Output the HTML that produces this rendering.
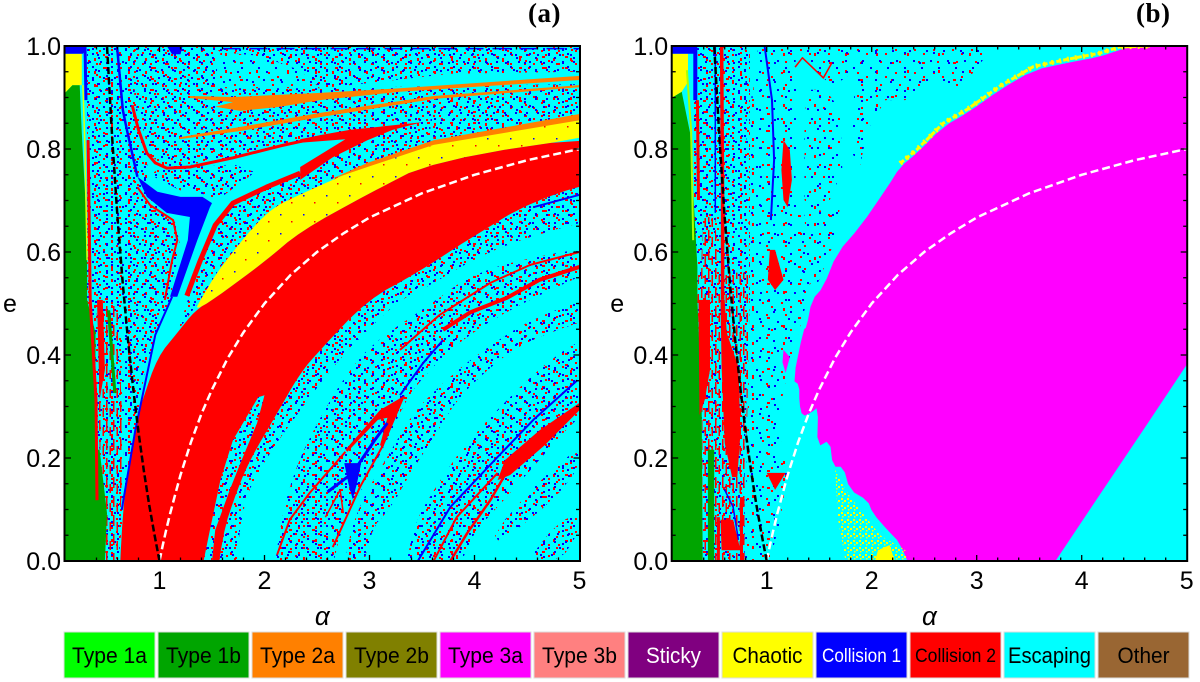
<!DOCTYPE html>
<html lang="en">
<head>
<meta charset="utf-8">
<title>Orbit classification maps</title>
<style>
html,body{margin:0;padding:0;background:#fff;width:1200px;height:682px;overflow:hidden}
svg{display:block}
text{font-family:"Liberation Sans",sans-serif;fill:#000}
.lg{font-size:22px;text-anchor:middle}
.pl{font-family:"Liberation Serif",serif;font-weight:bold;font-size:27px;letter-spacing:.5px}
</style>
</head>
<body>
<svg id="fig" xmlns="http://www.w3.org/2000/svg" width="1200" height="682" viewBox="0 0 1200 682">
<defs>
<pattern id="dense-red" patternUnits="userSpaceOnUse" width="17" height="13"><g fill="#f00"><rect x="1" y="2" width="2" height="2"/><rect x="9" y="6" width="2" height="3"/><rect x="14" y="11" width="2" height="2"/></g></pattern>
<pattern id="dense-red2" patternUnits="userSpaceOnUse" width="23" height="11"><g fill="#f00"><rect x="4" y="8" width="2" height="2"/><rect x="13" y="1" width="3" height="2"/><rect x="19" y="5" width="2" height="2"/></g></pattern>
<pattern id="dense-blue" patternUnits="userSpaceOnUse" width="19" height="13"><g fill="#00f"><rect x="3" y="5" width="2" height="2"/><rect x="11" y="10" width="2" height="2"/><rect x="16" y="1" width="2" height="2"/></g></pattern>
<pattern id="dense-blue2" patternUnits="userSpaceOnUse" width="11" height="29"><g fill="#00f"><rect x="1" y="3" width="2" height="2"/><rect x="7" y="11" width="2" height="2"/><rect x="4" y="19" width="2" height="2"/><rect x="9" y="25" width="2" height="2"/></g></pattern>
<pattern id="sparse-red" patternUnits="userSpaceOnUse" width="19" height="23"><g fill="#f00"><rect x="2" y="3" width="2" height="2"/><rect x="11" y="7" width="2" height="2"/><rect x="6" y="15" width="2" height="2"/></g></pattern>
<pattern id="sparse-red2" patternUnits="userSpaceOnUse" width="31" height="17"><g fill="#f00"><rect x="8" y="2" width="2" height="3"/><rect x="23" y="11" width="3" height="2"/></g></pattern>
<pattern id="sparse-blue" patternUnits="userSpaceOnUse" width="17" height="29"><g fill="#00f"><rect x="3" y="9" width="2" height="2"/><rect x="12" y="2" width="2" height="2"/><rect x="8" y="21" width="2" height="2"/></g></pattern>
<pattern id="sparse-blue2" patternUnits="userSpaceOnUse" width="29" height="19"><g fill="#00f"><rect x="5" y="14" width="2" height="2"/><rect x="20" y="5" width="2" height="2"/></g></pattern>
<pattern id="red-vertical" patternUnits="userSpaceOnUse" width="7" height="19"><g fill="#f00"><rect x="1" y="2" width="1.5" height="11"/><rect x="4.5" y="9" width="1.5" height="9"/></g></pattern>
<pattern id="yellow-noise" patternUnits="userSpaceOnUse" width="23" height="19"><rect x="4" y="5" width="1.5" height="1.5" fill="#00f"/><rect x="15" y="12" width="1.5" height="1.5" fill="#f00"/></pattern>
<pattern id="yellow-dots" patternUnits="userSpaceOnUse" width="6" height="7"><g fill="#ff0"><rect x="1" y="1" width="2" height="2"/><rect x="4" y="3" width="2" height="2"/><rect x="2" y="5" width="1.5" height="1.5"/></g></pattern>
<clipPath id="clip-a"><rect x="65" y="46" width="515" height="515"/></clipPath>
<clipPath id="clip-b"><rect x="672" y="46" width="515" height="515"/></clipPath>
</defs>

<text class="pl" x="528" y="22">(a)</text>
<text class="pl" x="1136" y="22">(b)</text>

<g stroke="#ddd" stroke-width="1">
<g><rect x="64" y="632" width="91" height="46" fill="#00ff00"/><text class="lg" x="109.5" y="663" stroke="none" textLength="75" lengthAdjust="spacingAndGlyphs">Type 1a</text></g>
<g><rect x="158" y="632" width="91" height="46" fill="#00a500"/><text class="lg" x="203.5" y="663" stroke="none" textLength="75" lengthAdjust="spacingAndGlyphs">Type 1b</text></g>
<g><rect x="252" y="632" width="91" height="46" fill="#ff8000"/><text class="lg" x="297.5" y="663" stroke="none" textLength="75" lengthAdjust="spacingAndGlyphs">Type 2a</text></g>
<g><rect x="346" y="632" width="91" height="46" fill="#808000"/><text class="lg" x="391.5" y="663" stroke="none" textLength="75" lengthAdjust="spacingAndGlyphs">Type 2b</text></g>
<g><rect x="440" y="632" width="91" height="46" fill="#ff00ff"/><text class="lg" x="485.5" y="663" stroke="none" textLength="75" lengthAdjust="spacingAndGlyphs">Type 3a</text></g>
<g><rect x="534" y="632" width="91" height="46" fill="#ff8080"/><text class="lg" x="579.5" y="663" stroke="none" textLength="75" lengthAdjust="spacingAndGlyphs">Type 3b</text></g>
<g><rect x="628" y="632" width="91" height="46" fill="#800080"/><text class="lg" x="673.5" y="663" stroke="none" style="fill:#fff" textLength="55" lengthAdjust="spacingAndGlyphs">Sticky</text></g>
<g><rect x="722" y="632" width="91" height="46" fill="#ffff00"/><text class="lg" x="767.5" y="663" stroke="none" textLength="70" lengthAdjust="spacingAndGlyphs">Chaotic</text></g>
<g><rect x="816" y="632" width="91" height="46" fill="#0000ff"/><text class="lg" x="861.5" y="662" stroke="none" style="fill:#fff;font-size:19px" textLength="79" lengthAdjust="spacingAndGlyphs">Collision 1</text></g>
<g><rect x="910" y="632" width="91" height="46" fill="#ff0000"/><text class="lg" x="955.5" y="662" stroke="none" style="font-size:19px" textLength="81" lengthAdjust="spacingAndGlyphs">Collision 2</text></g>
<g><rect x="1004" y="632" width="91" height="46" fill="#00ffff"/><text class="lg" x="1049.5" y="663" stroke="none" textLength="83" lengthAdjust="spacingAndGlyphs">Escaping</text></g>
<g><rect x="1098" y="632" width="91" height="46" fill="#996633"/><text class="lg" x="1143.5" y="663" stroke="none" textLength="52" lengthAdjust="spacingAndGlyphs">Other</text></g>
</g>
</svg>

<script>
// Axis tick values
const xTickValues = [1, 2, 3, 4, 5];
const yTickValues = [0, 0.2, 0.4, 0.6, 0.8, 1];
const yTickLabels = ['0.0', '0.2', '0.4', '0.6', '0.8', '1.0'];

// Reference curves
const whiteCurveAlpha = [1,1.03,1.06,1.1,1.15,1.2,1.3,1.4,1.5,1.65,1.8,2,2.25,2.5,2.75,3,3.5,4,4.5,5];
const whiteCurveE = [0,.03,.057,.091,.13,.167,.231,.286,.333,.394,.444,.5,.556,.6,.636,.667,.714,.75,.778,.8];
const blackCurveAlpha = [1,.95,.9,.85,.8,.75,.7,.65,.6,.55,.5];
const blackCurveE = [0,.053,.111,.176,.25,.333,.429,.538,.667,.818,1];

// Panel (a) regions, as [alpha, e]
const aGreen = [[.1,0],[.1,.909],[.17,.924],[.24,.924],[.26,.831],[.31,.637],[.31,.507],[.39,.443],[.39,.249],[.4,.216],[.43,.216],[.5,.093],[.48,0]];
const aGreenSpike = [[.5,.487],[.53,.487],[.59,.326],[.56,.326]];
const aYellowCap = [[.1,.985],[.26,.985],[.26,.924],[.17,.924],[.1,.909]];
const aBlueCap = [[.1,1],[.29,1],[.29,.99],[.27,.985],[.1,.985]];
const aYellowLine = [[.27,.924],[.29,.798],[.31,.584]];
const aRedEdge = [[.32,.817],[.34,.507],[.395,.313],[.405,.118]];
const aRedEdgeWide = [[.405,.507],[.46,.507],[.48,.371],[.43,.313]];
const aRedRich = [[.4,.5],[.6,.5],[.66,.2],[.6,0],[.48,0],[.43,.216]];
const aBlueStrip = [[.29,1],[.3,.895]];
const aSpeckleLeft = [[.31,1],[.31,.507],[.39,.443],[.39,.249],[.43,.216],[.5,.093],[.48,0],[.61,0],[.66,.11],[.767,.254],[.862,.371],[.976,.443],[1.1,.507],[1.195,.614],[1.148,.658],[.89,.73],[.88,.792],[.767,.895],[.72,1]];
const aSpeckleAboveBlob = [[1.005,.763],[1.72,.769],[1.91,.755],[1.62,.711],[1.51,.701],[1.45,.711],[1.195,.72],[.91,.75]];
const aSpeckleUpper = [[.72,1],[1.53,1],[1.56,.918],[2.53,.918],[3.61,.922],[5,.926],[5,.866],[3.61,.817],[3.58,.866],[3.5,.852],[2.53,.823],[1.7,.783],[1.07,.763],[.91,.788],[.77,.895]];
const aSpeckleTop = [[1.51,1],[5,1],[5,.95],[3.77,.946],[2.81,.924],[2.53,.918],[2.34,.953],[1.96,.981],[1.58,.988]];
const aSparsePatch = [[1.58,.988],[1.96,.981],[2.34,.953],[2.53,.918],[1.56,.918]];
const aSpeckleUnderArm = [[3.58,.866],[3.58,.812],[2.98,.769],[2.34,.707],[2.02,.676],[1.58,.571],[1.39,.507],[1.18,.449],[1.27,.507],[1.39,.581],[1.53,.647],[1.7,.691],[2.02,.724],[2.34,.759],[2.65,.794],[2.98,.821],[3.22,.841]];
const aYellow = [[5.4,.87],[3.605,.814],[2.98,.77],[2.34,.712],[2.02,.68],[1.58,.571],[1.39,.507],[1.34,.487],[1.51,.507],[2.02,.584],[2.34,.64],[2.98,.712],[3.61,.778],[5.4,.832]];
const aOrangeBand = [[5,.868],[3.61,.817],[2.98,.773],[2.62,.74],[2.98,.765],[3.61,.808],[5,.856]];
const aBigRed = [[5.4,.832],[3.61,.778],[2.98,.712],[2.34,.64],[2.02,.584],[1.51,.507],[1.34,.487],[1.17,.443],[.98,.396],[.84,.313],[.79,.28],[.72,.196],[.65,.105],[.6,-.12],[1.5,-.12],[1.595,.05],[1.74,.138],[1.86,.196],[2.12,.287],[2.34,.365],[2.53,.41],[2.98,.507],[3.45,.559],[3.93,.623],[4.56,.701],[5.4,.75]];
const aSliver = [[1.42,0],[1.5,0],[1.53,.06],[1.67,.138],[1.77,.19],[1.93,.268],[2,.322],[1.94,.318],[1.7,.235],[1.58,.157],[1.48,.06]];
const aBandA = [[1.7,-.12],[1.77,.105],[2.02,.202],[2.34,.293],[2.65,.377],[2.98,.449],[3.29,.507],[3.55,.532],[3.93,.579],[4.4,.623],[5.4,.678],[5.4,.75],[4.56,.701],[3.93,.623],[3.45,.559],[2.98,.507],[2.53,.41],[2.34,.365],[2.12,.287],[1.86,.196],[1.74,.138],[1.595,.05],[1.5,-.12]];
const aBandB = [[2.05,-.12],[2.12,.041],[2.27,.171],[2.53,.28],[2.79,.365],[3.03,.423],[3.64,.507],[3.93,.551],[4.4,.584],[5.4,.62],[5.4,.59],[4.31,.487],[3.81,.419],[3.53,.361],[3.36,.318],[3.17,.235],[2.94,.144],[2.72,.066],[2.55,-.12]];
const aBandB2 = [[5.4,.53],[4.56,.474],[3.99,.396],[3.7,.346],[3.41,.287],[3.17,.202],[2.94,.124],[2.79,.041],[2.7,-.12],[2.85,-.12],[3,.06],[3.19,.099],[3.39,.171],[3.64,.249],[3.83,.313],[4.15,.377],[4.5,.429],[5.4,.49]];
const aBandC = [[5.4,.46],[4.79,.41],[3.96,.241],[3.61,.138],[3.41,.066],[3.25,-.12],[3.72,-.12],[3.93,.041],[4.22,.105],[4.56,.183],[4.98,.28],[5.4,.34]];
const aBandD = [[5,.221],[4.62,.157],[4.18,.054],[4.24,.035],[4.75,.118],[5,.183]];
const aBandE = [[4.5,0],[4.79,.074],[5,.093],[5,.06],[4.82,0]];
const aThinRed = [[.74,.885],[.8,.837],[.88,.792],[.96,.773],[1.07,.763],[1.29,.765],[1.7,.783],[2.15,.806],[2.53,.823]];
const aArrowHead = [[3.5,.852],[2.81,.837],[2.53,.827],[2.34,.819],[2.34,.812],[2.77,.819],[2.34,.765],[2.34,.74],[2.65,.784],[2.98,.817],[3.22,.837]];
const aLowerArm = [[2.34,.753],[2.02,.726],[1.7,.695],[1.53,.652],[1.39,.584],[1.26,.515]];
const aBlueBlob = [[.98,.717],[1.2,.707],[1.41,.707],[1.5,.695],[1.48,.687],[1.36,.623],[1.17,.513],[1.1,.513],[1.27,.623],[1.29,.668],[1.07,.676],[.88,.707],[.79,.746]];
const aBlueUp = [[.79,.746],[.69,.837],[.65,.876],[.595,1]];
const aBlueDown = [[1.12,.513],[.96,.439],[.77,.254],[.64,.099]];
const aRedLower = [[.79,.726],[.91,.691],[1.13,.662],[1.17,.623],[1.12,.584],[1.05,.507]];
const aOrange1 = [[1.29,.903],[1.7,.901],[2.53,.909],[3.29,.918],[5,.942],[5,.934],[3.29,.911],[2.53,.895],[2.15,.882],[1.77,.874],[1.53,.882],[1.7,.891],[1.29,.899]];
const aOrange2 = [[1.19,.823],[1.77,.843],[2.53,.87],[3.61,.903],[5,.924],[5,.92],[3.61,.897],[2.53,.862],[1.77,.835],[1.19,.819]];
const aTopBlob = [[1.07,1],[1.22,1],[1.2,.984],[1.12,.984]];
const aTopDash = [[1.6,.995],[5,.995]];
const aBandRed1 = [[5,.6],[4.53,.575],[4.15,.54],[3.67,.478],[3.29,.41]];
const aBandRed2 = [[5,.571],[4.62,.546],[4.31,.511],[3.96,.483],[3.7,.449]];
const aBandBlue = [[3.7,.429],[3.51,.384],[3.29,.322]];
const aEdgeBlue = [[4.56,.687],[5,.711]];
const aLowHead = [[3.34,.322],[3.1,.293],[2.77,.216],[2.79,.212],[3.08,.274],[3.17,.278],[3.1,.225],[3.13,.221],[3.22,.264]];
const aLowLeftArm = [[2.77,.212],[2.43,.132],[2.24,.08],[2.12,.012]];
const aLowRightArm = [[3.13,.225],[2.91,.144],[2.65,.027]];
const aLowBlue = [[3.17,.268],[3.05,.235],[2.84,.171],[2.6,.134]];
const aLowStar = [[2.76,.19],[2.92,.19],[2.88,.15],[2.84,.12],[2.8,.15]];
const aLowChevron = [[2.58,.085],[2.72,.138],[2.75,.093]];
const aRightBlue = [[3.46,0],[3.77,.105],[4.22,.202],[4.56,.274],[4.98,.351]];
const aRightRedThin = [[3.61,0],[3.83,.085],[4.22,.171]];
const aRightRedWide = [[5,.307],[4.62,.254],[4.29,.196],[4.22,.157],[4.34,.167],[4.67,.225],[5,.293]];
const aRightRedTail = [[4.29,.167],[4.15,.118],[3.93,.054],[3.77,0]];

// Panel (b) regions, as [alpha, e]
const bGreen = [[.1,0],[.1,.9],[.19,.911],[.27,.831],[.29,.753],[.34,.571],[.34,.507],[.38,.313],[.39,0]];
const bGreen2 = [[.44,.216],[.5,.216],[.5,0],[.44,0]];
const bYellowCap = [[.1,.985],[.25,.985],[.25,.93],[.19,.911],[.1,.9]];
const bBlueCap = [[.1,1],[.33,1],[.33,.985],[.1,.985]];
const bBlueStrip = [[.32,1],[.32,.895]];
const bLimeSliver = [[.24,.953],[.28,.837],[.3,.623]];
const bDenseLeft = [[.32,1],[.84,1],[.84,.507],[.79,.216],[.79,0],[.39,0],[.38,.313],[.34,.507],[.34,.571],[.29,.753]];
const bRedRich = [[.35,.56],[.84,.56],[.79,0],[.39,0],[.38,.313],[.34,.507]];
const bSparseMain = [[.79,1],[.86,.895],[.92,1],[1.27,1],[1.29,.895],[1.27,.701],[1.36,.652],[1.41,.526],[1.27,.419],[1.16,.332],[1.11,.254],[1.2,.177],[1.13,.08],[1.03,0],[.79,0],[.84,.507]];
const bCol2 = [[1.38,.915],[1.56,.915],[1.7,.876],[1.72,.759],[1.6,.701],[1.46,.672],[1.36,.701],[1.36,.837]];
const bCol2Low = [[1.36,.672],[1.7,.691],[1.65,.623],[1.46,.526],[1.39,.546]];
const bColTop = [[1.27,1],[1.89,1],[1.91,.963],[1.65,.924],[1.56,.934],[1.35,.973]];
const bCol3 = [[1.82,.876],[1.79,.798],[1.89,.769],[1.96,.837],[2.13,.895],[2.32,.895],[2.6,.934],[2.84,.915],[3.06,.973],[3.13,1],[1.91,1],[1.86,.953]];
const bPink = [[5.2,1.05],[4.65,1.01],[4.36,.992],[4.17,.979],[3.86,.967],[3.54,.953],[3.22,.915],[2.91,.87],[2.68,.843],[2.43,.792],[2.27,.765],[2.15,.726],[1.89,.649],[1.67,.598],[1.54,.532],[1.43,.507],[1.38,.454],[1.35,.449],[1.25,.351],[1.31,.342],[1.31,.307],[1.34,.28],[1.43,.289],[1.49,.299],[1.48,.221],[1.6,.235],[1.63,.183],[1.73,.183],[1.79,.138],[1.96,.118],[2.01,.093],[2.15,.06],[2.27,.035],[2.38,-.02],[2.38,-.1],[5.2,-.1]];
const bPinkIsland = [[1.16,.41],[1.22,.396],[1.18,.365],[1.15,.386]];
const bCyanCorner = [[3.75,0],[4.17,.128],[4.65,.274],[5,.381],[5,0]];
const bFringe = [[2.27,.772],[2.43,.799],[2.68,.85],[2.91,.877],[3.22,.922],[3.54,.96],[3.86,.974],[4.17,.986],[4.36,.998],[4.65,1]];
const bYellowBottom = [[1.65,.177],[1.75,.138],[1.89,.099],[2.08,.05],[2.32,.021],[2.35,0],[1.75,0],[1.68,.08]];
const bYellowSolid = [[2.03,0],[2.22,0],[2.17,.031],[2.06,.021]];
const bRedBlade = [[.56,.507],[.6,.507],[.62,.443],[.73,.377],[.75,.249],[.72,.163],[.67,.163],[.6,.229],[.57,.377]];
const bRedLeft = [[.35,.507],[.46,.507],[.46,.371],[.41,.313],[.36,.283]];
const bRedStrip = [[.57,1],[.58,.701],[.58,.507]];
const bRedEdge = [[.34,.895],[.35,.701]];
const bRedClump = [[.39,.668],[.51,.668],[.54,.54],[.37,.526]];
const bRedBlob1 = [[1.03,.604],[1.08,.604],[1.16,.546],[1.08,.526],[1.01,.546]];
const bRedBlob2 = [[1.16,.817],[1.22,.798],[1.24,.74],[1.2,.687],[1.16,.701],[1.14,.759]];
const bRedFoot = [[.56,.08],[.68,.08],[.75,.021],[.57,.021]];
const bRedPost1 = [[.76,.124],[.76,0]];
const bRedPost2 = [[.54,.085],[.54,0]];
const bRedChevron = [[1,.171],[1.18,.171],[1.08,.138]];
const bChevronTop = [[1.27,.959],[1.34,.977],[1.54,.938],[1.62,.967]];
const bBlueColumn = [[.98,1],[1.05,.895],[1.07,.779],[1.04,.662]];
const bBlueThin = [[.51,1],[.51,.676]];
const bBlueLow = [[.6,.138],[.68,.105],[.73,.041]];

const NS = 'http://www.w3.org/2000/svg';
const fig = document.getElementById('fig');

function makePanel(id, xAtOne, clip) {
  const g = document.createElementNS(NS, 'g');
  
  
  fig.appendChild(g);
  const inner = document.createElementNS(NS, 'g');
  inner.setAttribute('clip-path', 'url(#' + clip + ')');
  g.appendChild(inner);
  return {
    root: g,
    inner: inner,
    x: function (a) { return xAtOne + 105 * (a - 1); },
    y: function (e) { return 561 - 515 * e; }
  };
}
function ptsOf(p, pts) {
  return pts.map(function (d) { return p.x(d[0]).toFixed(1) + ',' + p.y(d[1]).toFixed(1); }).join(' ');
}
// Corner-cutting so long boundaries read as smooth arcs
function rounded(pts, rounds) {
  let cur = pts;
  for (let r = 0; r < rounds; r++) {
    const out = [];
    for (let i = 0; i < cur.length; i++) {
      const s = cur[i], t = cur[(i + 1) % cur.length];
      out.push([.75 * s[0] + .25 * t[0], .75 * s[1] + .25 * t[1]]);
      out.push([.25 * s[0] + .75 * t[0], .25 * s[1] + .75 * t[1]]);
    }
    cur = out;
  }
  return cur;
}
function area(p, pts, fill, name) {
  const el = document.createElementNS(NS, 'polygon');
  el.setAttribute('points', ptsOf(p, pts));
  el.setAttribute('fill', fill);
  
  
  p.inner.appendChild(el);
}
function line(p, pts, color, width, name, dash) {
  const el = document.createElementNS(NS, 'polyline');
  el.setAttribute('points', ptsOf(p, pts));
  el.setAttribute('fill', 'none');
  el.setAttribute('stroke', color);
  el.setAttribute('stroke-width', width);
  el.setAttribute('stroke-linejoin', 'round');
  if (dash) el.setAttribute('stroke-dasharray', dash);
  
  
  p.inner.appendChild(el);
}
function speckle(p, pts, kind, name) {
  area(p, pts, 'url(#' + kind + '-red)', name + '-red-points');
  area(p, pts, 'url(#' + kind + '-red2)', name + '-red-points-2');
  area(p, pts, 'url(#' + kind + '-blue)', name + '-blue-points');
  area(p, pts, 'url(#' + kind + '-blue2)', name + '-blue-points-2');
}
function zipCurve(xs, ys) {
  return xs.map(function (a, i) { return [a, ys[i]]; });
}
function axes(p, id) {
  const x0 = p.x(0.1), x1 = p.x(5), y0 = p.y(0), y1 = p.y(1);
  function tick(x1a, y1a, x2a, y2a, name) {
    const t = document.createElementNS(NS, 'line');
    t.setAttribute('x1', x1a); t.setAttribute('y1', y1a);
    t.setAttribute('x2', x2a); t.setAttribute('y2', y2a);
    t.setAttribute('stroke', '#000');
    t.setAttribute('stroke-width', '1.3');
    
    
    p.root.appendChild(t);
  }
  for (let i = 1; i <= 24; i++) {
    const a = 0.2 * i + 0.2;
    if (a > 5) break;
    const major = Math.abs(a - Math.round(a)) < 1e-6;
    const len = major ? 6 : 3.5;
    tick(p.x(a), y0, p.x(a), y0 - len, id + '-bottom-tick');
    tick(p.x(a), y1, p.x(a), y1 + len, id + '-top-tick');
  }
  for (let i = 0; i <= 20; i++) {
    const e = i * 0.05;
    const len = i % 4 === 0 ? 6 : 3.5;
    tick(x0, p.y(e), x0 + len, p.y(e), id + '-left-tick');
    tick(x1, p.y(e), x1 - len, p.y(e), id + '-right-tick');
  }
  const frame = document.createElementNS(NS, 'rect');
  frame.setAttribute('x', x0 - 0.5);
  frame.setAttribute('y', y1);
  frame.setAttribute('width', x1 - x0 + 1);
  frame.setAttribute('height', y0 - y1);
  frame.setAttribute('fill', 'none');
  frame.setAttribute('stroke', '#000');
  frame.setAttribute('stroke-width', '2');
  
  
  p.root.appendChild(frame);
  xTickValues.forEach(function (v) {
    const t = document.createElementNS(NS, 'text');
    t.setAttribute('x', p.x(v));
    t.setAttribute('y', 589);
    t.setAttribute('text-anchor', 'middle');
    t.setAttribute('font-size', '25');
    
    
    t.textContent = String(v);
    p.root.appendChild(t);
  });
  yTickValues.forEach(function (v, i) {
    const t = document.createElementNS(NS, 'text');
    t.setAttribute('x', x0 - 4);
    t.setAttribute('y', p.y(v) + 9);
    t.setAttribute('text-anchor', 'end');
    t.setAttribute('font-size', '25');
    
    
    t.textContent = yTickLabels[i];
    p.root.appendChild(t);
  });
  const yt = document.createElementNS(NS, 'text');
  yt.setAttribute('x', x0 - 62);
  yt.setAttribute('y', 312);
  yt.setAttribute('font-size', '25');
  
  
  yt.textContent = 'e';
  p.root.appendChild(yt);
  const xt = document.createElementNS(NS, 'text');
  xt.setAttribute('x', p.x(2.55));
  xt.setAttribute('y', 625);
  xt.setAttribute('text-anchor', 'middle');
  xt.setAttribute('font-size', '26');
  xt.setAttribute('font-style', 'italic');
  
  
  xt.textContent = 'α';
  p.root.appendChild(xt);
}
function background(p, name) {
  area(p, [[.05,-.05],[.05,1.05],[5.1,1.05],[5.1,-.05]], '#00ffff', name);
}
function refCurves(p) {
  line(p, zipCurve(whiteCurveAlpha, whiteCurveE), '#fff', 2.5, 'white-dashed-curve', '8 4');
  line(p, zipCurve(blackCurveAlpha, blackCurveE), '#000', 2.5, 'black-dashed-curve', '7 3');
}

/* Panel (a) */
const pa = makePanel('panel-a', 159.5, 'clip-a');
background(pa, 'escaping-background');
speckle(pa, aSpeckleLeft, 'dense', 'left-speckle');
speckle(pa, aSpeckleAboveBlob, 'dense', 'speckle-above-blob');
speckle(pa, aSpeckleUpper, 'dense', 'upper-speckle');
speckle(pa, aSpeckleTop, 'dense', 'top-speckle');
speckle(pa, aSparsePatch, 'sparse', 'sparse-patch');
speckle(pa, aSpeckleUnderArm, 'dense', 'speckle-under-arm');
speckle(pa, rounded(aBandA, 2), 'dense', 'speckle-band-a');
speckle(pa, rounded(aBandB, 2), 'dense', 'speckle-band-b');
speckle(pa, rounded(aBandB2, 2), 'dense', 'speckle-band-b2');
speckle(pa, rounded(aBandC, 2), 'dense', 'speckle-band-c');
speckle(pa, rounded(aBandD, 1), 'dense', 'speckle-band-d');
speckle(pa, rounded(aBandE, 1), 'dense', 'speckle-band-e');
area(pa, aRedRich, 'url(#red-vertical)', 'collision-2-rich-area');
area(pa, rounded(aYellow, 2), '#ffff00', 'chaotic-band');
area(pa, rounded(aYellow, 2), 'url(#yellow-noise)', 'chaotic-band-noise');
area(pa, aOrangeBand, '#ff8000', 'type-2a-fringe');
area(pa, rounded(aBigRed, 2), '#ff0000', 'collision-2-band');
area(pa, aSliver, '#00ffff', 'sliver-background');
speckle(pa, aSliver, 'dense', 'sliver-speckle');
area(pa, aGreen, '#00a500', 'type-1b-region');
area(pa, aGreenSpike, '#00a500', 'type-1b-spike');
area(pa, aYellowCap, '#ffff00', 'chaotic-cap');
area(pa, aBlueCap, '#0000ff', 'collision-1-cap');
line(pa, aYellowLine, '#e8ff00', 1.5, 'chaotic-line');
line(pa, aRedEdge, '#ff0000', 3, 'collision-2-edge');
area(pa, aRedEdgeWide, '#ff0000', 'collision-2-edge-wide');
line(pa, aBlueStrip, '#0000ff', 3, 'collision-1-strip');
area(pa, aOrange1, '#ff8000', 'type-2a-streak-upper');
area(pa, aOrange2, '#ff8000', 'type-2a-streak-lower');
line(pa, aThinRed, '#ff0000', 3, 'collision-2-thin-curve');
area(pa, aArrowHead, '#ff0000', 'collision-2-arrow-head');
line(pa, aLowerArm, '#ff0000', 5, 'collision-2-lower-arm');
area(pa, aBlueBlob, '#0000ff', 'collision-1-blob');
line(pa, aBlueUp, '#0000ff', 2.5, 'collision-1-strand-up');
line(pa, aBlueDown, '#0000ff', 2, 'collision-1-strand-down');
line(pa, aRedLower, '#ff0000', 2, 'collision-2-lobe');
area(pa, aTopBlob, '#0000ff', 'collision-1-top-blob');
line(pa, aTopDash, '#0000ff', 1.5, 'collision-1-top-dashes', '18 9');
line(pa, aBandRed1, '#ff0000', 2, 'collision-2-stripe-1');
line(pa, aBandRed2, '#ff0000', 4, 'collision-2-stripe-2');
line(pa, aBandBlue, '#0000ff', 2, 'collision-1-band-line');
line(pa, aEdgeBlue, '#0000ff', 2, 'collision-1-edge-line');
area(pa, aLowHead, '#ff0000', 'collision-2-low-arrow');
line(pa, aLowLeftArm, '#ff0000', 2, 'collision-2-low-arm-left');
line(pa, aLowRightArm, '#ff0000', 2, 'collision-2-low-arm-right');
line(pa, aLowBlue, '#0000ff', 3, 'collision-1-low-line');
area(pa, aLowStar, '#0000ff', 'collision-1-low-star');
line(pa, aLowChevron, '#ff0000', 1.5, 'collision-2-low-chevron');
line(pa, aRightBlue, '#0000ff', 2, 'collision-1-right-line');
line(pa, aRightRedThin, '#ff0000', 2, 'collision-2-right-thin');
area(pa, aRightRedWide, '#ff0000', 'collision-2-right-wide');
line(pa, aRightRedTail, '#ff0000', 2.5, 'collision-2-right-tail');
refCurves(pa);
axes(pa, 'panel-a');

/* Panel (b) */
const pb = makePanel('panel-b', 766.7, 'clip-b');
background(pb, 'escaping-background');
speckle(pb, bDenseLeft, 'dense', 'left-speckle');
area(pb, bRedRich, 'url(#red-vertical)', 'collision-2-rich-area');
speckle(pb, bSparseMain, 'sparse', 'main-speckle');
speckle(pb, bCol2, 'sparse', 'column-2-speckle');
speckle(pb, bCol2Low, 'sparse', 'column-2-low-speckle');
speckle(pb, bColTop, 'sparse', 'top-speckle');
speckle(pb, bCol3, 'sparse', 'column-3-speckle');
area(pb, rounded(bPink, 1), '#ff00ff', 'type-3a-region');
area(pb, bPinkIsland, '#ff00ff', 'type-3a-island');
area(pb, bCyanCorner, '#00ffff', 'escaping-corner');
line(pb, bFringe, '#ffff00', 3, 'chaotic-fringe', '5 2');
line(pb, bFringe, '#ffff00', 5, 'chaotic-fringe-scatter', '2 6');
area(pb, bYellowBottom, 'url(#yellow-dots)', 'chaotic-bottom-speckle');
area(pb, bYellowSolid, '#ffff00', 'chaotic-bottom-patch');
area(pb, bGreen, '#00a500', 'type-1b-region');
area(pb, bGreen2, '#00a500', 'type-1b-strip');
area(pb, bYellowCap, '#ffff00', 'chaotic-cap');
area(pb, bBlueCap, '#0000ff', 'collision-1-cap');
line(pb, bBlueStrip, '#0000ff', 4, 'collision-1-strip');
line(pb, bLimeSliver, '#aaff00', 2, 'type-1a-sliver');
area(pb, bRedBlade, '#ff0000', 'collision-2-blade');
area(pb, bRedLeft, '#ff0000', 'collision-2-left');
line(pb, bRedStrip, '#ff0000', 3.5, 'collision-2-strip');
line(pb, bRedEdge, '#ff0000', 3, 'collision-2-edge');
area(pb, bRedClump, 'url(#red-vertical)', 'collision-2-clump');
area(pb, bRedBlob1, '#ff0000', 'collision-2-blob-lower');
area(pb, bRedBlob2, '#ff0000', 'collision-2-blob-upper');
area(pb, bRedFoot, '#ff0000', 'collision-2-foot');
line(pb, bRedPost1, '#ff0000', 3, 'collision-2-post-right');
line(pb, bRedPost2, '#ff0000', 3, 'collision-2-post-left');
area(pb, bRedChevron, '#ff0000', 'collision-2-chevron');
line(pb, bChevronTop, '#ff0000', 1.5, 'collision-2-top-chevron');
line(pb, bBlueColumn, '#0000ff', 2, 'collision-1-column');
line(pb, bBlueThin, '#0000ff', 1.5, 'collision-1-thin-line');
line(pb, bBlueLow, '#0000ff', 1.5, 'collision-1-low-line');
refCurves(pb);
axes(pb, 'panel-b');
</script>
</body>
</html>
